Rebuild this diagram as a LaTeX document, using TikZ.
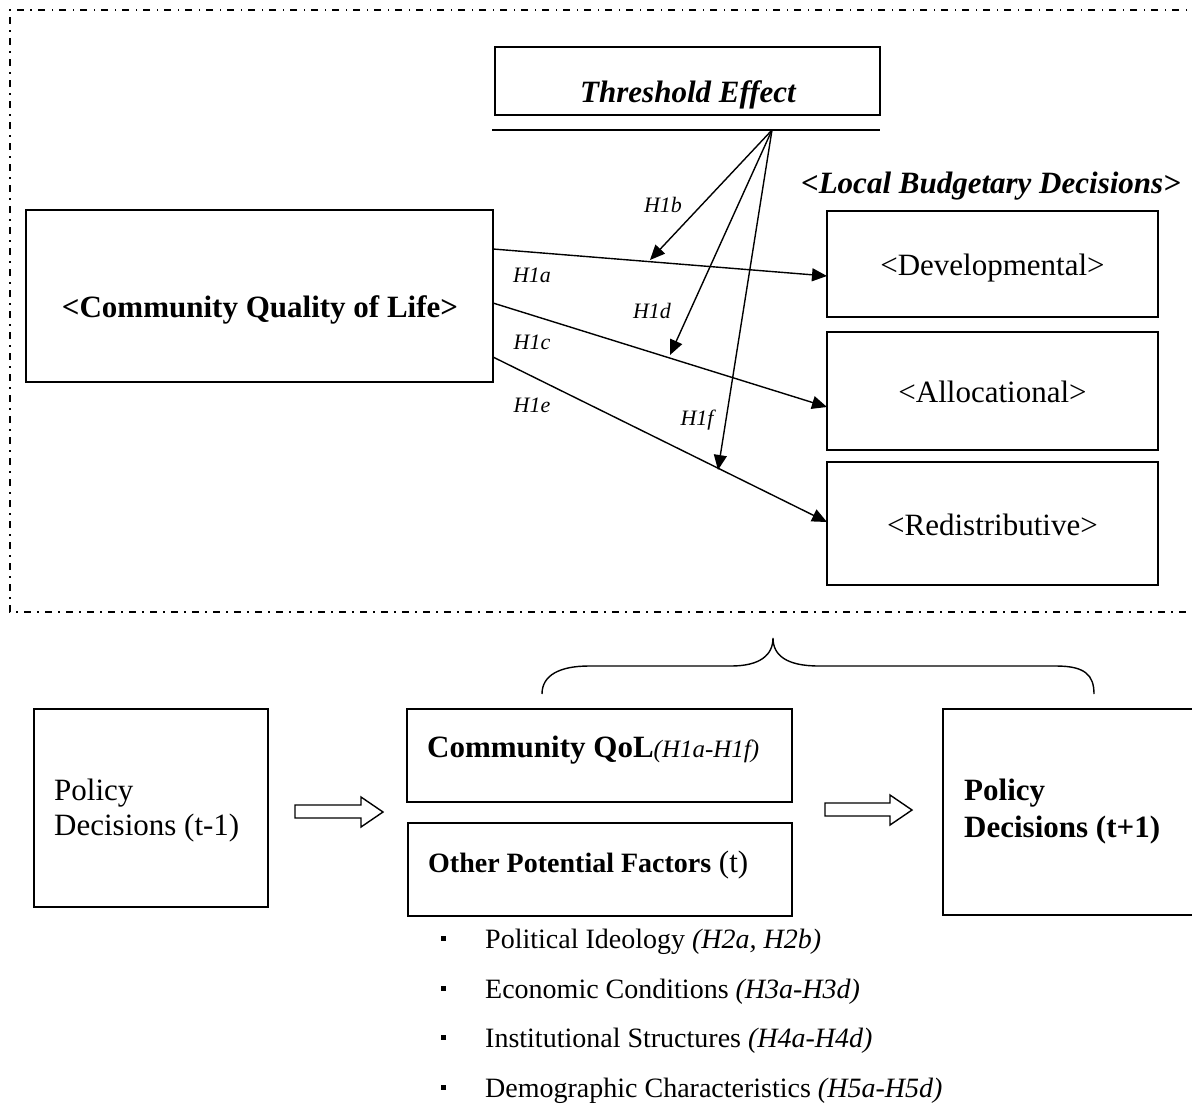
\documentclass[tikz,border=0pt]{standalone}
\usepackage{fontspec}
\setmainfont{Liberation Serif}
\usetikzlibrary{arrows.meta}
\begin{document}
\begin{tikzpicture}[x=1pt,y=-1pt,
  boxst/.style={draw, line width=1.6pt, inner sep=0pt, rectangle},
  txt/.style={inner sep=0pt, anchor=base},
  big/.style={font=\fontsize{31}{37}\selectfont},
  lab/.style={inner sep=0pt, font=\fontsize{22}{26}\selectfont\itshape},
  conn/.style={line width=1.4pt, -{Triangle[length=15pt,width=13pt]}},
  blockarrow/.style={draw, line width=1.4pt, fill=white, line join=miter},
  bulletsq/.style={fill, minimum size=5pt, inner sep=0pt, rectangle},
  listtxt/.style={inner sep=0pt, anchor=base west, font=\fontsize{28}{33}\selectfont}]
\useasboundingbox (0,0) rectangle (1192,1104);

% dash-dot frame
\draw[line width=1.3pt, dash pattern=on 7pt off 6pt on 1.5pt off 6.5pt]
  (1200,10) -- (10,10) -- (10,612) -- (1200,612);

% threshold
\node[boxst, minimum width=385pt, minimum height=68pt] (thr) at (687.5,81) {};
\node[txt, font=\fontsize{31}{37}\selectfont\bfseries\itshape] (thrt) at (688,102) {Threshold Effect};
\coordinate (hl1) at (492,130);
\coordinate (hl2) at (880,130);
\draw[line width=1.4pt] (hl1) -- (hl2);
\coordinate (src) at (772,130);

% community quality of life
\node[boxst, minimum width=467pt, minimum height=172pt] (cql) at (259.5,296) {};
\node[txt, font=\fontsize{31}{37}\selectfont\bfseries] (cqlt) at (260,317) {<Community Quality of Life>};

% budget boxes
\node[txt, font=\fontsize{31}{37}\selectfont\bfseries\itshape] (lbd) at (991,193) {<Local Budgetary Decisions>};
\node[boxst, minimum width=331pt, minimum height=106pt] (dev) at (992.5,264) {};
\node[txt, big] (devt) at (992.5,275) {<Developmental>};
\node[boxst, minimum width=331pt, minimum height=118pt] (alo) at (992.5,391) {};
\node[txt, big] (alot) at (992.5,402) {<Allocational>};
\node[boxst, minimum width=331pt, minimum height=123pt] (red) at (992.5,523.5) {};
\node[txt, big] (redt) at (992.5,535) {<Redistributive>};

% main connectors
\coordinate (s1) at (493,249);
\coordinate (s2) at (493,303);
\coordinate (s3) at (493,357);
\coordinate (e1) at (827,276);
\coordinate (e2) at (827,407);
\coordinate (e3) at (827,522);
\draw[conn] (s1) -- (e1);
\draw[conn] (s2) -- (e2);
\draw[conn] (s3) -- (e3);

% moderating arrows
\coordinate (t1) at (650,260);
\coordinate (t2) at (670,355);
\coordinate (t3) at (718,470);
\draw[conn] (src) -- (t1);
\draw[conn] (src) -- (t2);
\draw[conn] (src) -- (t3);

% labels
\node[lab] (h1b) at (663,205) {H1b};
\node[lab] (h1a) at (532,275) {H1a};
\node[lab] (h1d) at (652,311) {H1d};
\node[lab] (h1c) at (532,342) {H1c};
\node[lab] (h1e) at (532,405) {H1e};
\node[lab] (h1f) at (697,420) {H1f};

% brace
\draw[line width=1.4pt] (542,694) .. controls (542,675) and (560,666) .. (589,666)
  -- (731,666) .. controls (760,666) and (773,655) .. (773,638)
  .. controls (773,655) and (786,666) .. (819,666)
  -- (1056,666) .. controls (1085,666) and (1094,675) .. (1094,694);

% bottom boxes
\node[boxst, minimum width=234pt, minimum height=198pt] (pdl) at (151,808) {};
\node[txt, anchor=base west, big] (pdl1) at (54,800) {Policy};
\node[txt, anchor=base west, big] (pdl2) at (54,835) {Decisions (t-1)};

\node[boxst, minimum width=385pt, minimum height=93pt] (qol) at (599.5,755.5) {};
\node[txt, anchor=base west] (qolt) at (427,757) {{\fontsize{31}{37}\selectfont\bfseries Community QoL}{\fontsize{25}{30}\selectfont\itshape(H1a-H1f)}};
\node[boxst, minimum width=384pt, minimum height=93pt] (opf) at (600,869.5) {};
\node[txt, anchor=base west] (opft) at (428,872) {{\fontsize{28}{34}\selectfont\bfseries Other Potential Factors}\fontsize{31}{37}\selectfont\ (t)};

\node[boxst, minimum width=257pt, minimum height=206pt] (pdr) at (1071.5,812) {};
\node[txt, anchor=base west, font=\fontsize{31}{37}\selectfont\bfseries] (pdr1) at (964,800) {Policy};
\node[txt, anchor=base west, font=\fontsize{31}{37}\selectfont\bfseries] (pdr2) at (964,837) {Decisions (t+1)};

% block arrows
\draw[blockarrow] (295,805) -- (361,805) -- (361,797) -- (383,812) -- (361,827) -- (361,818) -- (295,818) -- cycle;
\draw[blockarrow] (825,803) -- (890,803) -- (890,795) -- (912,810) -- (890,825) -- (890,816) -- (825,816) -- cycle;

% list
\node[bulletsq] (b1) at (443.5,938) {};
\node[bulletsq] (b2) at (443.5,988) {};
\node[bulletsq] (b3) at (443.5,1037) {};
\node[bulletsq] (b4) at (443.5,1087) {};
\node[listtxt] (l1) at (485,948) {Political Ideology \textit{(H2a, H2b)}};
\node[listtxt] (l2) at (485,998) {Economic Conditions \textit{(H3a-H3d)}};
\node[listtxt] (l3) at (485,1047) {Institutional Structures \textit{(H4a-H4d)}};
\node[listtxt] (l4) at (485,1097) {Demographic Characteristics \textit{(H5a-H5d)}};
\end{tikzpicture}
\end{document}
